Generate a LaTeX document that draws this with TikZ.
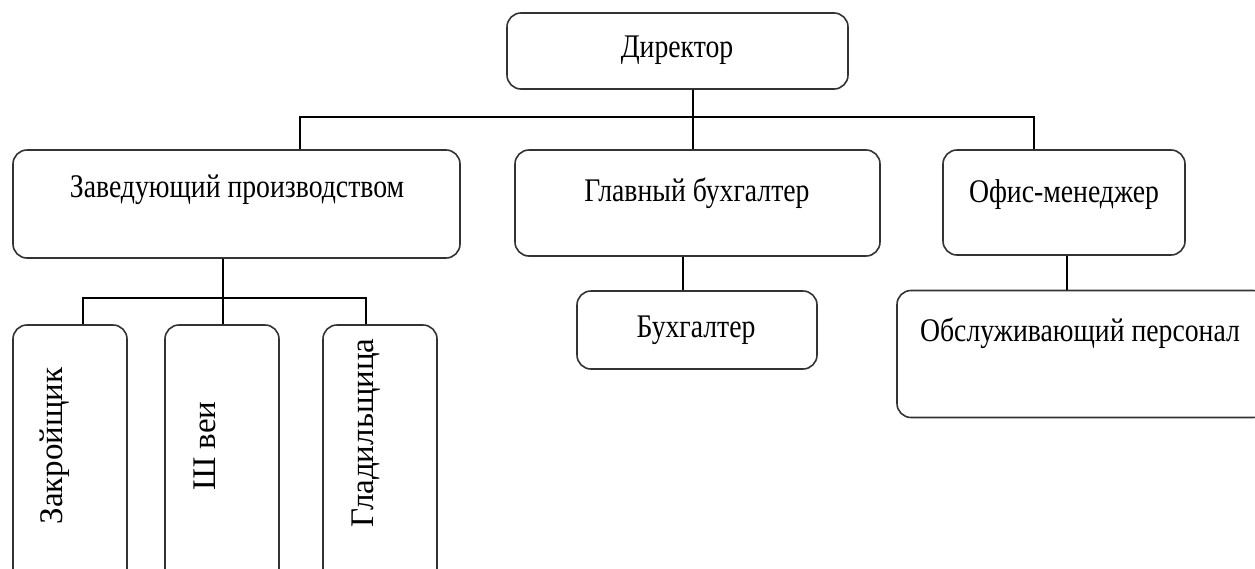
\documentclass[tikz,border=0pt]{standalone}
\usepackage{fontspec}
\setmainfont{Liberation Serif}[FakeStretch=0.84]
\newfontfamily\rotfont{Liberation Serif}
\begin{document}
\begin{tikzpicture}[x=1pt,y=-1pt,
  box/.style={draw=black!80, line width=1.6pt, rounded corners=14pt, fill=white, inner sep=0pt},
  txt/.style={font=\fontsize{33}{36}\selectfont, inner sep=0pt, anchor=center},
  rtxt/.style={font=\rotfont\fontsize{33}{36}\selectfont, inner sep=0pt, anchor=center, rotate=90},
  conn/.style={draw=black, line width=1.6pt}]
\useasboundingbox (0,0) rectangle (1255,568);
\clip (0,0) rectangle (1255,568);
% boxes
\node[box, minimum width=341pt, minimum height=76pt] (dir) at (677.5,51) {};
\node[txt] (tdir) at (677,50) {Директор};
\node[box, minimum width=447pt, minimum height=108pt] (zav) at (236.5,204) {};
\node[txt] (tzav) at (237,190) {Заведующий производством};
\node[box, minimum width=365pt, minimum height=106pt] (glb) at (697.5,203) {};
\node[txt] (tglb) at (697,193) {Главный бухгалтер};
\node[box, minimum width=242pt, minimum height=105pt] (ofm) at (1064,202.5) {};
\node[txt] (tofm) at (1064,195) {Офис-менеджер};
\node[box, minimum width=240pt, minimum height=78pt] (bux) at (697,330) {};
\node[txt] (tbux) at (696,330) {Бухгалтер};
\node[box, minimum width=370pt, minimum height=127pt] (obs) at (1082,354) {};
\node[txt] (tobs) at (1080,333) {Обслуживающий персонал};
\node[box, minimum width=114pt, minimum height=280pt] (zak) at (70,465) {};
\node[rtxt] (tzak) at (55,446) {Закройщик};
\node[box, minimum width=114pt, minimum height=280pt] (shv) at (222,465) {};
\node[rtxt] (tshv) at (205,446) {Ш веи};
\node[box, minimum width=114pt, minimum height=280pt] (gla) at (380,465) {};
\node[rtxt] (tgla) at (366,433) {Гладильщица};
% connectors
\coordinate (bd) at (693,117);
\coordinate (bl) at (300,117);
\coordinate (br) at (1034,117);
\draw[conn] (dir.south -| bd) -- (glb.north -| bd);
\draw[conn] (zav.north -| bl) -- (bl) -- (br) -- (ofm.north -| br);
\coordinate (gb) at (683,0);
\draw[conn] (glb.south -| gb) -- (bux.north -| gb);
\coordinate (ob) at (1067,0);
\draw[conn] (ofm.south -| ob) -- (obs.north -| ob);
\coordinate (zm) at (223,298);
\coordinate (zl) at (83,298);
\coordinate (zr) at (366,298);
\draw[conn] (zav.south -| zm) -- (zm);
\draw[conn] (zak.north -| zl) -- (zl) -- (zr) -- (gla.north -| zr);
\draw[conn] (zm) -- (shv.north -| zm);
\end{tikzpicture}
\end{document}
